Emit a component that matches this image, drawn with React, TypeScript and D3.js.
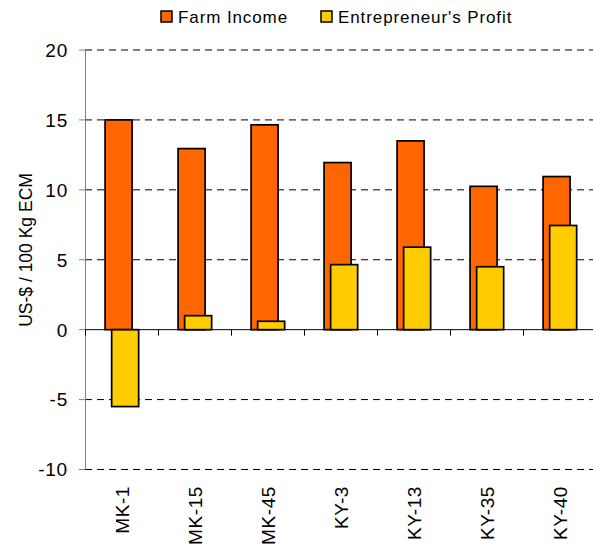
import React from "react";
import * as d3 from "d3";

const farms = ["MK-1", "MK-15", "MK-45", "KY-3", "KY-13", "KY-35", "KY-40"];
const farmIncome = [15.0, 12.95, 14.65, 11.95, 13.5, 10.25, 10.95];
const entrepreneurProfit = [-5.5, 1.0, 0.6, 4.65, 5.9, 4.5, 7.45];
const yTicks = [-10, -5, 0, 5, 10, 15, 20];
const seriesNames = ["Farm Income", "Entrepreneur's Profit"];
const seriesColors = ["#FF6600", "#FFCC00"];

const W = 593;
const H = 548;
const font = "'Liberation Sans', Arial, sans-serif";

export default function App() {
  const x = d3.scaleBand().domain(farms).range([85, 596]);
  const y = d3.scaleLinear().domain([-10, 20]).range([469.5, 50]);
  const bw = x.bandwidth();
  const barW = bw * 0.37;
  const offsets = [bw * 0.275, bw * 0.365];
  const series = [farmIncome, entrepreneurProfit];
  const y0 = y(0);

  return (
    <svg
      width={W}
      height={H}
      style={{ position: "absolute", left: 0, top: 0, background: "#fff" }}
      fontFamily={font}
    >
      {/* grid */}
      {yTicks
        .filter((t) => t !== 0)
        .map((t) => (
          <line
            key={t}
            x1={85}
            x2={W}
            y1={y(t)}
            y2={y(t)}
            stroke="#000"
            strokeWidth={1}
            strokeDasharray="7,5"
          />
        ))}

      {/* bars */}
      {series.map((vals, si) =>
        vals.map((v, i) => (
          <rect
            key={si + "-" + i}
            x={(x(farms[i]) as number) + offsets[si]}
            y={y(Math.max(0, v))}
            width={barW}
            height={Math.abs(y(v) - y0)}
            fill={seriesColors[si]}
            stroke="#000"
            strokeWidth={1.7}
          />
        ))
      )}

      {/* y axis */}
      <line x1={85.5} x2={85.5} y1={y(20)} y2={y(-10)} stroke="#808080" />
      {yTicks.map((t) => (
        <g key={t}>
          <line x1={79} x2={85} y1={y(t)} y2={y(t)} stroke="#808080" />
          <text
            x={68}
            y={y(t)}
            dy="0.36em"
            textAnchor="end"
            fontSize={19}
            letterSpacing={0.8}
            fill="#000"
          >
            {t}
          </text>
        </g>
      ))}

      {/* x axis */}
      <line x1={85} x2={W} y1={y0} y2={y0} stroke="#000" />
      {farms.map((f) => (
        <line
          key={f}
          x1={(x(f) as number) + 0.5}
          x2={(x(f) as number) + 0.5}
          y1={y0}
          y2={y0 + 6}
          stroke="#000"
        />
      ))}
      {farms.map((f) => (
        <text
          key={f}
          transform={`translate(${(x(f) as number) + bw / 2 + 7}, 486) rotate(-90)`}
          textAnchor="end"
          fontSize={19}
          letterSpacing={0.6}
          fill="#000"
        >
          {f}
        </text>
      ))}

      {/* y title */}
      <text
        transform="translate(32, 250) rotate(-90)"
        textAnchor="middle"
        fontSize={17.5}
        fill="#000"
      >
        US-$ / 100 Kg ECM
      </text>

      {/* legend */}
      {seriesNames.map((n, i) => {
        const lx = [161, 321][i];
        return (
          <g key={n}>
            <rect
              x={lx}
              y={11}
              width={11}
              height={11}
              fill={seriesColors[i]}
              stroke="#000"
              strokeWidth={1.5}
            />
            <text x={lx + 17} y={22.5} fontSize={17} letterSpacing={0.9} fill="#000">
              {n}
            </text>
          </g>
        );
      })}
    </svg>
  );
}
